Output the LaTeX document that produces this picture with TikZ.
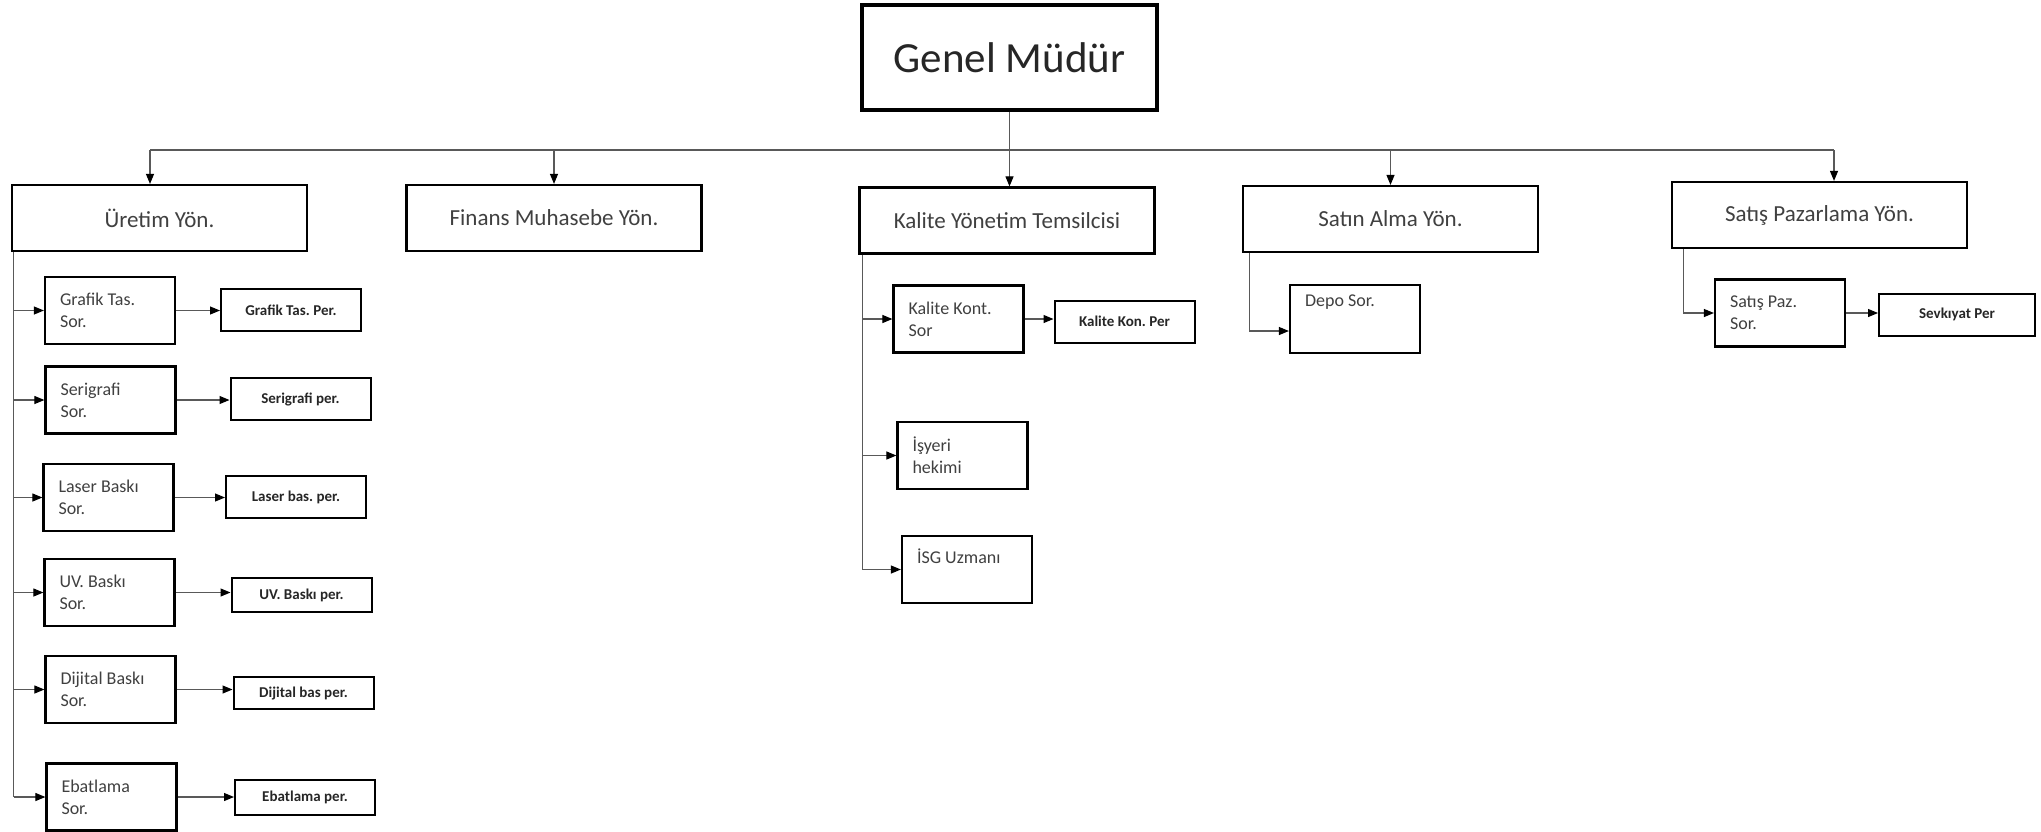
\documentclass[tikz,border=0pt]{standalone}
\usepackage{fontspec}
\setmainfont{Carlito}
\usetikzlibrary{positioning, arrows.meta}
\frenchspacing

\begin{document}
\begin{tikzpicture}[x=1pt, y=-1pt,
	ln/.style={line width=1.1pt, black!65},
	arr/.style={ln, -{Triangle[length=10pt,width=8pt,black]}},
	gmbox/.style={draw, line width=3.5pt, minimum width=295pt, minimum height=105pt,
		font=\fontsize{43}{50}\selectfont, text=black!85},
	yon/.style={draw, line width=2.2pt, minimum width=295pt, minimum height=66pt,
		font=\fontsize{23}{28}\selectfont, text=black!75},
	sor/.style={draw, line width=2.2pt, text width=100pt, inner xsep=15pt, minimum height=67pt,
		align=flush left, font=\fontsize{18}{22}\selectfont, text=black!75},
	per/.style={draw, line width=2pt, minimum width=140pt, minimum height=42pt,
		font=\bfseries\fontsize{15}{18}\selectfont, text=black!85}]
	\useasboundingbox (0,0) rectangle (2041,831);
	\node[gmbox] (gm) at (1009.5,57.5) {Genel Müdür};
	\node[yon] (uret) at (159.5,218) {Üretim Yön.};
	\node[yon] (fin) at (554,218) {Finans Muhasebe Yön.};
	\node[yon] (kal) at (1007,220.5) {Kalite Yönetim Temsilcisi};
	\node[yon] (sa) at (1390.5,219) {Satın Alma Yön.};
	\node[yon] (sat) at (1819.5,215) {Satış Pazarlama Yön.};
	% uretim
	\node[sor] (graf) at (110,310.5) {Grafik Tas.\\Sor.};
	\node[sor] (seri) at (110.5,400) {Serigrafi\\Sor.};
	\node[sor] (las) at (108.5,497.5) {Laser Baskı\\Sor.};
	\node[sor] (uv) at (109.5,592.5) {UV. Baskı\\Sor.};
	\node[sor] (dij) at (110.5,689.5) {Dijital Baskı\\Sor.};
	\node[sor] (ebat) at (111.5,797) {Ebatlama\\Sor.};
	\node[per] (gper) at (291,310) {Grafik Tas. Per.};
	\node[per] (sper) at (300.5,399) {Serigrafi per.};
	\node[per] (lper) at (296,497) {Laser bas. per.};
	\node[per, minimum height=34pt] (uper) at (301.5,595) {UV. Baskı per.};
	\node[per, minimum height=32pt] (dper) at (303.5,693) {Dijital bas per.};
	\node[per, minimum height=35pt] (eper) at (305,797.5) {Ebatlama per.};
	% kalite
	\node[sor] (kk) at (958.5,319) {Kalite Kont.\\Sor};
	\node[per] (kper) at (1124.5,321.5) {Kalite Kon. Per};
	\node[sor] (isy) at (962.5,455.5) {İşyeri\\hekimi};
	\node[sor, inner ysep=0pt, text height=27pt, text depth=40pt] (isg) at (967,569.5) {İSG Uzmanı};
	% satin alma, satis
	\node[sor, inner ysep=0pt, text height=21pt, text depth=47pt] (depo) at (1355,319) {Depo Sor.};
	\node[sor] (spz) at (1780,313) {Satış Paz.\\Sor.};
	\node[per, minimum width=156pt] (sevk) at (1957,314.5) {Sevkıyat Per};

	\draw[arr] (gm.south) -- (gm.south |- kal.north);
	\coordinate (bl) at (150,150);
	\coordinate (br) at (1834,150);
	\draw[ln] (bl) -- (br);
	\draw[arr] (bl) -- (bl |- uret.north);
	\draw[arr] (fin.north |- bl) -- (fin.north);
	\draw[arr] (sa.north |- bl) -- (sa.north);
	\draw[arr] (br) -- (br |- sat.north);

	\coordinate (us) at ([xshift=3pt]uret.south west);
	\draw[ln] (us) -- (us |- ebat.west);
	\draw[arr] (us |- graf.west) -- (graf.west);
	\draw[arr] (us |- seri.west) -- (seri.west);
	\draw[arr] (us |- las.west) -- (las.west);
	\draw[arr] (us |- uv.west) -- (uv.west);
	\draw[arr] (us |- dij.west) -- (dij.west);
	\draw[arr] (us |- ebat.west) -- (ebat.west);
	\draw[arr] (graf.east) -- (graf.east -| gper.west);
	\draw[arr] (seri.east) -- (seri.east -| sper.west);
	\draw[arr] (las.east) -- (las.east -| lper.west);
	\draw[arr] (uv.east) -- (uv.east -| uper.west);
	\draw[arr] (dij.east) -- (dij.east -| dper.west);
	\draw[arr] (ebat.east) -- (ebat.east -| eper.west);

	\coordinate (ks) at ([xshift=4pt]kal.south west);
	\draw[ln] (ks) -- (ks |- isg.west);
	\draw[arr] (ks |- kk.west) -- (kk.west);
	\draw[arr] (ks |- isy.west) -- (isy.west);
	\draw[arr] (ks |- isg.west) -- (isg.west);
	\draw[arr] (kk.east) -- (kk.east -| kper.west);

	\coordinate (ss) at ([xshift=8pt]sa.south west);
	\draw[arr] (ss) |- ([yshift=-12pt]depo.west);
	\coordinate (ts) at ([xshift=13pt]sat.south west);
	\draw[arr] (ts) |- (spz.west);
	\draw[arr] (spz.east) -- (spz.east -| sevk.west);
\end{tikzpicture}
\end{document}
